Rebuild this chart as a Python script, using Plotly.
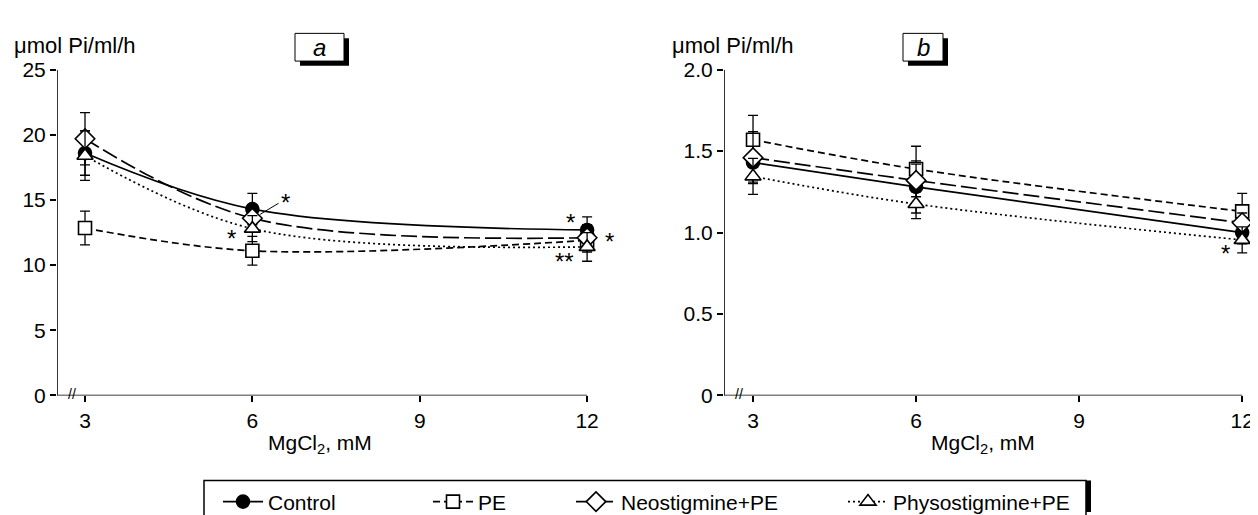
import plotly.graph_objects as go

# ---------------- data ----------------
mgcl2 = [3, 6, 12]
series_names = ["Control", "PE", "Neostigmine+PE", "Physostigmine+PE"]

# panel a
a_control = [18.6, 14.3, 12.7]
a_pe = [12.85, 11.1, 11.9]
a_neo = [19.7, 13.6, 12.1]
a_physo = [18.4, 12.8, 11.4]
a_control_err = [1.7, 1.2, 1.0]
a_pe_err = [1.3, 1.1, 0.9]
a_neo_err = [2.0, 1.0, 1.0]
a_physo_err = [1.9, 1.0, 1.1]

# panel b
b_control = [1.43, 1.28, 1.00]
b_pe = [1.57, 1.39, 1.13]
b_neo = [1.46, 1.32, 1.06]
b_physo = [1.345, 1.175, 0.955]
b_control_err = [0.12, 0.16, 0.07]
b_pe_err = [0.15, 0.14, 0.11]
b_neo_err = [0.16, 0.10, 0.06]
b_physo_err = [0.11, 0.09, 0.08]

a_yticks = [0, 5, 10, 15, 20, 25]
a_yticktext = ["0", "5", "10", "15", "20", "25"]
b_yticks = [0, 0.5, 1.0, 1.5, 2.0]
b_yticktext = ["0", "0.5", "1.0", "1.5", "2.0"]
xticks = [3, 6, 9, 12]

FONT = "Liberation Sans, Arial, sans-serif"
W, H = 1258, 515

styles = {
    "Control": dict(dash="solid", symbol="circle", fill="black", size=13),
    "PE": dict(dash="7px,4px", symbol="square", fill="white", size=13),
    "Neostigmine+PE": dict(dash="16px,5px", symbol="diamond", fill="white", size=15),
    "Physostigmine+PE": dict(dash="2px,3px", symbol="triangle-up", fill="white", size=14),
}
legend_ids = ["legend", "legend2", "legend3", "legend4"]

fig = go.Figure()

panels = [
    ("x", "y", [a_control, a_pe, a_neo, a_physo], [a_control_err, a_pe_err, a_neo_err, a_physo_err], True),
    ("x2", "y2", [b_control, b_pe, b_neo, b_physo], [b_control_err, b_pe_err, b_neo_err, b_physo_err], False),
]

for xa, ya, vals, errs, show in panels:
    for name, lg, v, e in zip(series_names, legend_ids, vals, errs):
        st = styles[name]
        fig.add_trace(go.Scatter(
            x=mgcl2, y=v, name=name, legendgroup=name, showlegend=show, legend=lg,
            xaxis=xa, yaxis=ya, mode="lines+markers",
            line=dict(color="black", width=1.7, dash=st["dash"], shape="spline", smoothing=1.0),
            marker=dict(symbol=st["symbol"], size=st["size"], color=st["fill"],
                        line=dict(color="black", width=1.6)),
            error_y=dict(type="data", array=e, visible=True, color="black", thickness=1.3, width=5),
            cliponaxis=False,
        ))

def px(xp):
    return xp / W

def py(yp):
    return (H - yp) / H

a_range = [2.498, 12.5]
b_range = [2.466, 12.42]

axis_common = dict(showgrid=False, zeroline=False, showline=False, ticks="outside",
                   ticklen=6, tickwidth=1.5, tickcolor="black",
                   tickfont=dict(family=FONT, size=21, color="black"))

leg_common = dict(orientation="h", xanchor="left", y=py(483), yanchor="top",
                  borderwidth=0, bgcolor="rgba(0,0,0,0)", itemwidth=40,
                  font=dict(family=FONT, size=21, color="black"),
                  itemclick=False, itemdoubleclick=False)

fig.update_layout(
    width=W, height=H, margin=dict(l=0, r=0, t=0, b=0),
    paper_bgcolor="white", plot_bgcolor="white",
    font=dict(family=FONT, color="black"),
    xaxis=dict(domain=[px(49), px(607)], range=a_range, tickvals=xticks, anchor="y", **axis_common),
    yaxis=dict(domain=[py(393), py(52)], range=[0, 25], tickvals=a_yticks, ticktext=a_yticktext,
               anchor="x", **axis_common),
    xaxis2=dict(domain=[px(716), px(1257)], range=b_range, tickvals=xticks, anchor="y2", **axis_common),
    yaxis2=dict(domain=[py(393), py(52)], range=[0, 2.0], tickvals=b_yticks, ticktext=b_yticktext,
                anchor="x2", **axis_common),
    legend=dict(x=px(210), **leg_common),
    legend2=dict(x=px(420), **leg_common),
    legend3=dict(x=px(563), **leg_common),
    legend4=dict(x=px(835), **leg_common),
    showlegend=True,
)

shapes = []
# legend frame (bottom cut by figure edge) with thick right edge
shapes.append(dict(type="rect", xref="paper", yref="paper", x0=px(196), x1=px(1078),
                   y0=py(520), y1=py(482), line=dict(color="black", width=1.5), layer="below"))
shapes.append(dict(type="rect", xref="paper", yref="paper", x0=px(1078), x1=px(1083),
                   y0=0, y1=py(482), fillcolor="black", line=dict(width=0)))

# axis lines
for xr, yr, rng, ytop in [("x", "y", a_range, 25), ("x2", "y2", b_range, 2.0)]:
    shapes.append(dict(type="line", xref=xr, yref=yr, x0=rng[0], x1=12, y0=0, y1=0,
                       line=dict(color="black", width=1.6)))
    shapes.append(dict(type="line", xref=xr, yref=yr, x0=rng[0], x1=rng[0], y0=0, y1=ytop,
                       line=dict(color="black", width=1.6)))

# panel label boxes with shadow
for x0, x1 in [(287, 336), (895, 935)]:
    shapes.append(dict(type="rect", xref="paper", yref="paper", x0=px(x0 + 5), x1=px(x1 + 5),
                       y0=py(48), y1=py(19), fillcolor="black", line=dict(width=0)))
    shapes.append(dict(type="rect", xref="paper", yref="paper", x0=px(x0), x1=px(x1),
                       y0=py(43), y1=py(14), fillcolor="white", line=dict(color="black", width=1)))

# leader line to asterisk near Neostigmine point at 6 mM (panel a)
shapes.append(dict(type="line", xref="x", yref="y", x0=6.14, y0=13.9, x1=6.47, y1=14.75,
                   line=dict(color="black", width=1)))

fig.update_layout(shapes=shapes)

ann = []
tfont = dict(family=FONT, size=21, color="black")
for xp in [4, 662]:
    ann.append(dict(text="μmol Pi/ml/h", xref="paper", yref="paper", x=px(xp), y=py(27),
                    xanchor="left", yanchor="middle", showarrow=False,
                    font=dict(family=FONT, size=22, color="black")))
ann.append(dict(text="<i>a</i>", xref="paper", yref="paper", x=px(311), y=py(29),
                xanchor="center", yanchor="middle", showarrow=False,
                font=dict(family=FONT, size=24, color="black")))
ann.append(dict(text="<i>b</i>", xref="paper", yref="paper", x=px(915), y=py(29),
                xanchor="center", yanchor="middle", showarrow=False,
                font=dict(family=FONT, size=24, color="black")))
for xp in [312, 975]:
    ann.append(dict(text="MgCl<sub>2</sub>, mM", xref="paper", yref="paper", x=px(xp), y=py(444),
                    xanchor="center", yanchor="middle", showarrow=False, font=tfont))
# axis break marks
for xr, yr in [("x domain", "y"), ("x2 domain", "y2")]:
    ann.append(dict(text="//", xref=xr, yref=yr, x=0, y=0, xshift=15, yshift=1,
                    xanchor="center", yanchor="middle", showarrow=False,
                    font=dict(family=FONT, size=14, color="black")))

star_font = dict(family=FONT, size=24, color="black")
stars = [
    ("x", "y", 6, a_neo[1], "*", 33, 16),
    ("x", "y", 6, a_physo[1], "*", -21, -10),
    ("x", "y", 12, a_control[2], "*", -17, 7),
    ("x", "y", 12, a_neo[2], "*", 22, -4),
    ("x", "y", 12, a_physo[2], "**", -23, -15),
    ("x2", "y2", 12, b_pe[2], "*", 17, -1),
    ("x2", "y2", 12, b_control[2], "*", 17, -7),
    ("x2", "y2", 12, b_physo[2], "*", -17, -14),
]
for xr, yr, xv, yv, t, dx, dy in stars:
    ann.append(dict(text=t, xref=xr, yref=yr, x=xv, y=yv, xshift=dx, yshift=dy,
                    xanchor="center", yanchor="middle", showarrow=False, font=star_font))

fig.update_layout(annotations=ann)

fig.write_html("out.html")
